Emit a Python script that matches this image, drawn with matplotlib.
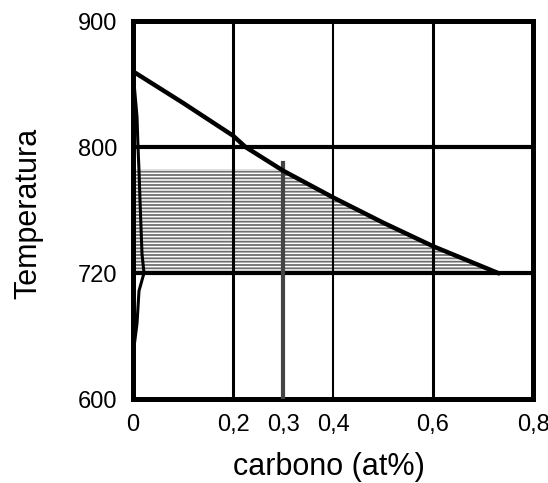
import numpy as np
import matplotlib
matplotlib.use('Agg')
import matplotlib.pyplot as plt

# axis ticks (temperature axis is not linear: ticks are evenly spaced)
temp_ticks = [600, 720, 800, 900]
carb_ticks = [0.0, 0.2, 0.3, 0.4, 0.6, 0.8]
carb_labels = ['0', '0,2', '0,3', '0,4', '0,6', '0,8']

# gamma / (alpha+gamma) boundary
a3_c = [0.0, 0.1, 0.2, 0.225, 0.3, 0.4, 0.5, 0.6, 0.73]
a3_t = [860, 835, 809, 800, 785, 768, 752, 737, 720]

# alpha boundary near the left edge
alpha_c = [0.0, 0.008, 0.010, 0.012, 0.014, 0.018, 0.022, 0.012, 0.008, 0.0]
alpha_t = [860, 824, 800, 785, 766, 732, 720, 703, 672, 642]

alloy_c = 0.3      # composition of the alloy
alloy_top = 790
hatch_top = 786    # two-phase region below the alloy's A3 temperature
eutectoid_t = 720


def fwd(t):
    return np.interp(t, temp_ticks, np.arange(len(temp_ticks)))


def inv(p):
    return np.interp(p, np.arange(len(temp_ticks)), temp_ticks)


plt.rcParams['font.family'] = ['Liberation Sans', 'DejaVu Sans']
plt.rcParams['hatch.linewidth'] = 1.3

fig = plt.figure(figsize=(5.48, 4.83), dpi=100)
ax = fig.add_axes([0.2427, 0.1739, 0.73, 0.7826])
ax.set_yscale('function', functions=(fwd, inv))
ax.set_xlim(0, 0.8)
ax.set_ylim(600, 900)

# hatched alpha+gamma region
ts = np.linspace(eutectoid_t, hatch_top, 60)
right = np.interp(ts, a3_t[::-1], a3_c[::-1])
ax.fill_betweenx(ts, 0, right, facecolor='none', edgecolor='#707070',
                 hatch='-----', linewidth=0, zorder=1)

# grid
for t, lw in zip([800, 720], [3.0, 3.0]):
    ax.axhline(t, color='black', lw=lw, zorder=2)
for c, lw in zip([0.2, 0.4, 0.6], [2.2, 1.5, 2.2]):
    ax.axvline(c, color='black', lw=lw, zorder=2)

ax.plot([alloy_c, alloy_c], [600, alloy_top], color='#444444', lw=3, zorder=3)
ax.plot(alpha_c, alpha_t, color='black', lw=2.2, zorder=4)
ax.plot(a3_c, a3_t, color='black', lw=3.2, zorder=5)

ax.set_yticks(temp_ticks)
ax.set_yticklabels([str(t) for t in temp_ticks])
ax.set_xticks(carb_ticks)
ax.set_xticklabels(carb_labels)
ax.minorticks_off()
ax.tick_params(length=0, labelsize=17, pad=11)
for s in ax.spines.values():
    s.set_linewidth(3.6)

ax.set_xlabel('carbono (at%)', fontsize=22)
ax.xaxis.set_label_coords(0.49, -0.14)
ax.xaxis.label.set_va('top')
ax.set_ylabel('Temperatura', fontsize=22)
ax.yaxis.set_label_coords(-0.225, 0.49)

fig.savefig('out.png', dpi=100)
